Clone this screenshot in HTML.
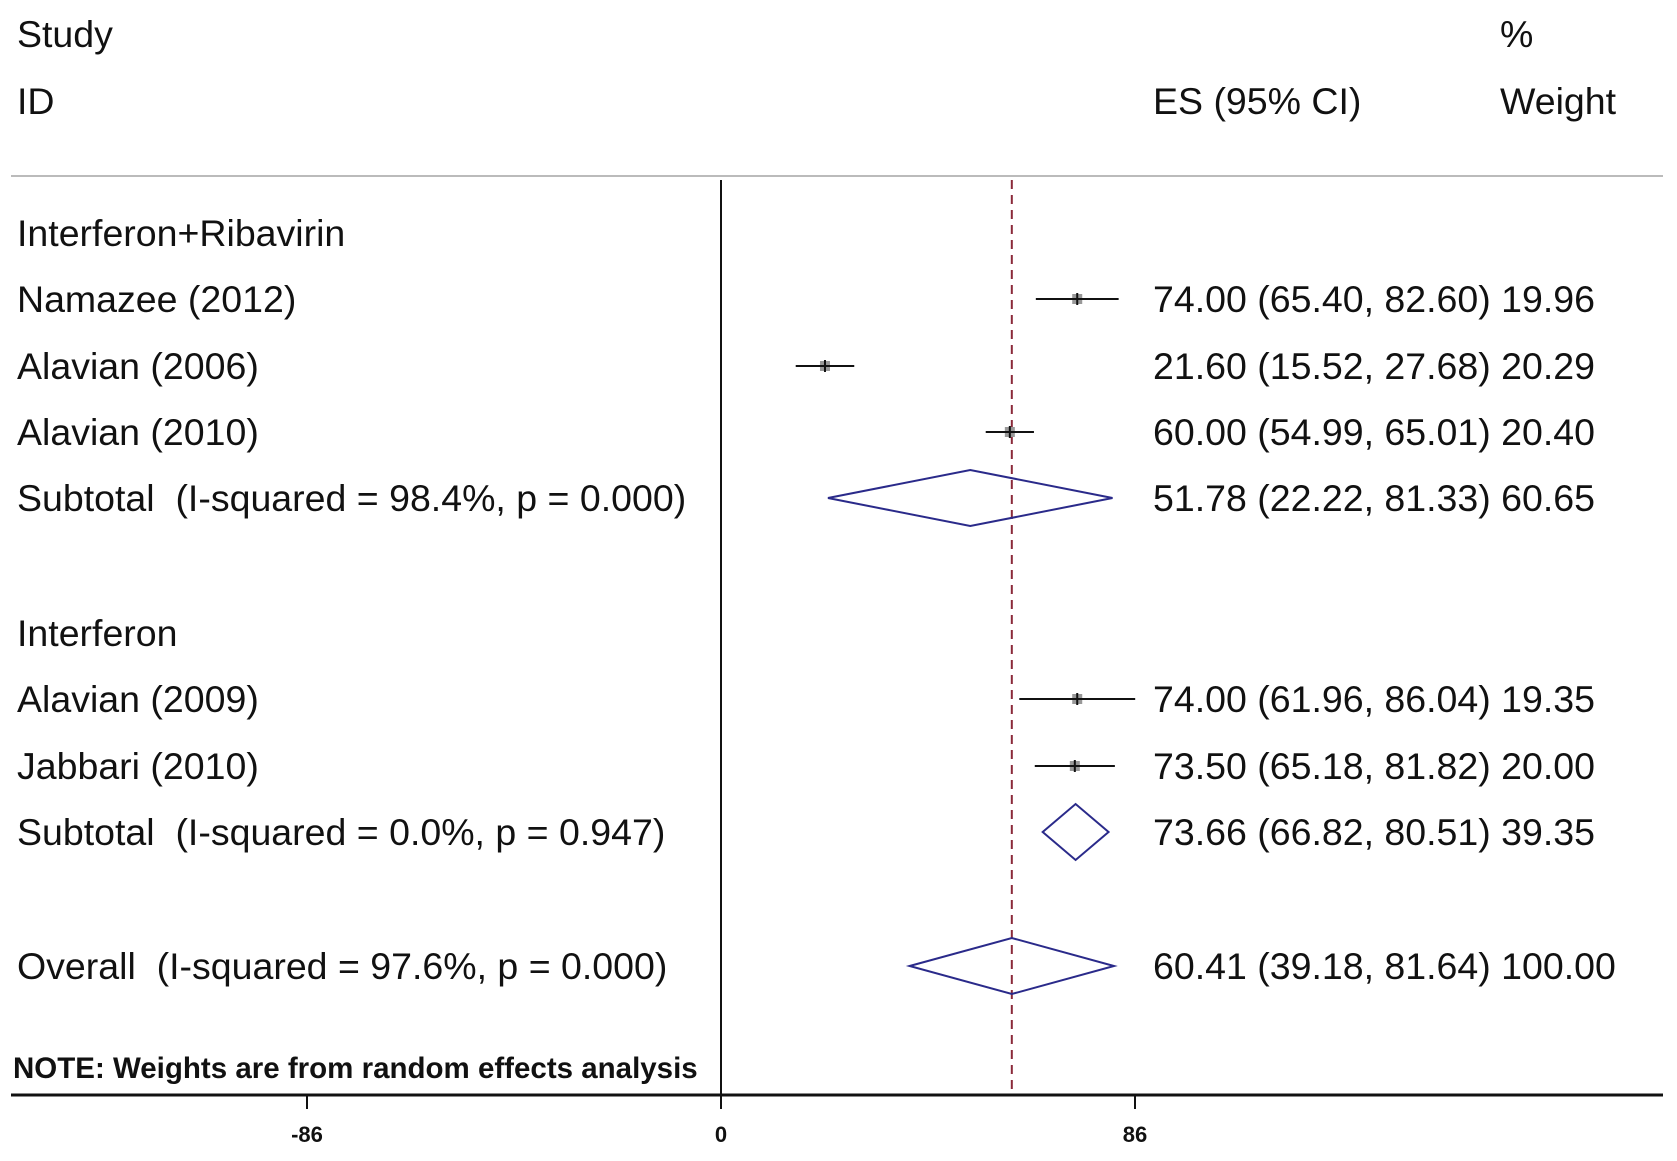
<!DOCTYPE html>
<html><head><meta charset="utf-8"><style>
html,body{margin:0;padding:0;background:#fff;}
svg{display:block;font-family:"Liberation Sans",Arial,sans-serif;}
text{white-space:pre;}
</style></head><body>
<svg id="chart" width="1677" height="1161" viewBox="0 0 1677 1161" xmlns="http://www.w3.org/2000/svg">
<g id="static" fill="#111" font-size="37.5">
<text x="17" y="47">Study</text>
<text x="17" y="114">ID</text>
<text x="1153" y="114">ES (95% CI)</text>
<text x="1500" y="47">%</text>
<text x="1500" y="114">Weight</text>
<line x1="11" y1="176" x2="1663" y2="176" stroke="#bbb" stroke-width="2"/>
<text x="13" y="1078" font-size="29.5" font-weight="bold">NOTE: Weights are from random effects analysis</text>
</g>
<g id="plot"></g>
</svg>
<script>
const labels = ["Interferon+Ribavirin","Namazee (2012)","Alavian (2006)","Alavian (2010)","Subtotal  (I-squared = 98.4%, p = 0.000)","Interferon","Alavian (2009)","Jabbari (2010)","Subtotal  (I-squared = 0.0%, p = 0.947)","Overall  (I-squared = 97.6%, p = 0.000)"];
const rowY = [233,299,366,432,498,633,699,766,832,966];
const kinds = ["head","study","study","study","sub","head","study","study","sub","sub"];
const es = [null,74.00,21.60,60.00,51.78,null,74.00,73.50,73.66,60.41];
const lo = [null,65.40,15.52,54.99,22.22,null,61.96,65.18,66.82,39.18];
const hi = [null,82.60,27.68,65.01,81.33,null,86.04,81.82,80.51,81.64];
const weights = [null,"19.96","20.29","20.40","60.65",null,"19.35","20.00","39.35","100.00"];
const ticks = [-86,0,86];
const overall = 60.41;

const NS="http://www.w3.org/2000/svg";
const g=document.getElementById('plot');
const x0=721, unit=414/86;
const X=v=>x0+v*unit;
function mk(t,a){const e=document.createElementNS(NS,t);for(const k in a)e.setAttribute(k,a[k]);g.appendChild(e);return e;}
const f=v=>v.toFixed(2);

let e=mk('line',{x1:x0,y1:180,x2:x0,y2:1095,stroke:'#111','stroke-width':2});


e=mk('line',{x1:X(overall),y1:180,x2:X(overall),y2:1095,stroke:'#8b2a3a','stroke-width':2,'stroke-dasharray':'9,6'});


e=mk('line',{x1:11,y1:1095,x2:1663,y2:1095,stroke:'#111','stroke-width':3});


ticks.forEach(t=>{
  let l=mk('line',{x1:X(t),y1:1095,x2:X(t),y2:1109,stroke:'#111','stroke-width':2});
  
  
  let tx=mk('text',{x:X(t),y:1142,'text-anchor':'middle','font-size':22,'font-weight':'bold',fill:'#111'});
  tx.textContent=String(t);
  
  
});
labels.forEach((lab,i)=>{
  const y=rowY[i];
  let t=mk('text',{x:17,y:y+13,'font-size':37.5,fill:'#111'});
  t.textContent=lab;
  
  
  if(kinds[i]==='head')return;
  let s=mk('text',{x:1153,y:y+13,'font-size':37.5,fill:'#111'});
  s.textContent=f(es[i])+" ("+f(lo[i])+", "+f(hi[i])+") "+weights[i];
  
  
  if(kinds[i]==='study'){
    let l=mk('line',{x1:X(lo[i]),y1:y,x2:X(hi[i]),y2:y,stroke:'#111','stroke-width':2});
    
    
    let r=mk('rect',{x:X(es[i])-5,y:y-5,width:10,height:10,fill:'#999'});
    
    
    let c=mk('path',{d:`M${X(es[i])-6},${y}h12M${X(es[i])},${y-6}v12`,stroke:'#111','stroke-width':2});
    
    
  } else {
    let d=mk('polygon',{points:`${X(lo[i])},${y} ${X(es[i])},${y-28} ${X(hi[i])},${y} ${X(es[i])},${y+28}`,fill:'none',stroke:'#2a2a8a','stroke-width':2});
    
    
  }
});
</script>
</body></html>
